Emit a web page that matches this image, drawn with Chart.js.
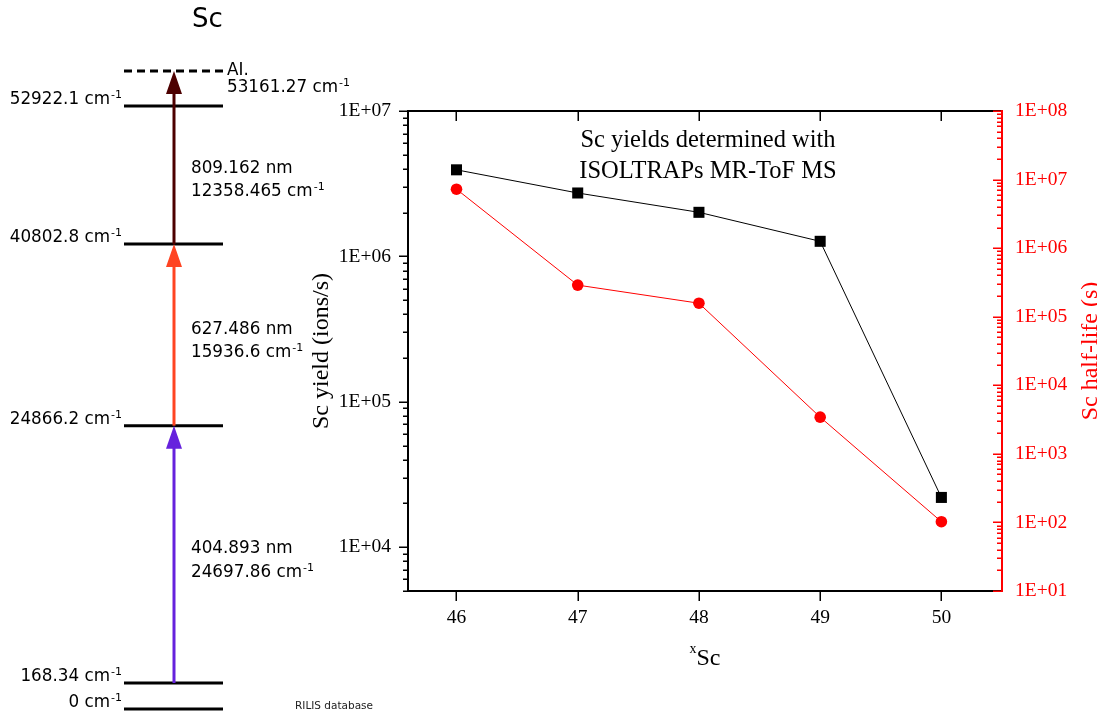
<!DOCTYPE html>
<html><head><meta charset="utf-8">
<script src="https://cdn.jsdelivr.net/npm/chart.js@4.4.1/dist/chart.umd.min.js"></script>
<style>
html,body{margin:0;padding:0;background:#fff;width:1097px;height:712px;overflow:hidden}
#main{position:absolute;left:0;top:0}
#diag{position:absolute;left:0;top:0}
</style></head><body>
<canvas id="main" width="1097" height="712"></canvas>
<canvas id="diag" width="400" height="712"></canvas>
<script>
// ---------------- data: yield chart ----------------
const massNumbers = [46, 47, 48, 49, 50];
const yieldValues = [3.94e6, 2.73e6, 2.01e6, 1.27e6, 2.2e4];
const halfLifeValues = [7.24e6, 2.89e5, 1.573e5, 3432, 102.5];
const massTicks = [46, 47, 48, 49, 50];
const yieldTicks = [1e4, 1e5, 1e6, 1e7];
const halfLifeTicks = [1e1, 1e2, 1e3, 1e4, 1e5, 1e6, 1e7, 1e8];
const chartTitleLines = ['Sc yields determined with', 'ISOLTRAPs MR-ToF MS'];
const yieldAxisTitle = 'Sc yield (ions/s)';
const halfLifeAxisTitle = 'Sc half-life (s)';
const massAxisSup = 'x';
const massAxisTitle = 'Sc';

// ---------------- data: ionization scheme ----------------
const elementName = 'Sc';
const levelEnergies = [0, 168.34, 24866.2, 40802.8, 52922.1];
const levelLabels = ['0', '168.34', '24866.2', '40802.8', '52922.1'];
const ionizationEnergy = 53161.27;
const ionizationLabel = '53161.27';
const transitionLower = [1, 2, 3];
const transitionWavenumbers = [24697.86, 15936.6, 12358.465];
const transitionWavenumberLabels = ['24697.86', '15936.6', '12358.465'];
const transitionWavelengths = ['404.893', '627.486', '809.162'];
const transitionColors = ['#6622dd', '#ff4422', '#4d0000'];
const sourceNote = 'RILIS database';

// ---------------- helpers ----------------
const serif = "'Liberation Serif', 'Times New Roman', serif";
const sans = "'DejaVu Sans', Verdana, sans-serif";
function expLabel(v) {
  const e = Math.round(Math.log10(v));
  return '1E+' + String(e).padStart(2, '0');
}
function logTickList(min, max) {
  const out = [];
  for (let d = Math.floor(Math.log10(min)); d <= Math.ceil(Math.log10(max)); d++) {
    for (let m = 1; m <= 9; m++) {
      const v = m * Math.pow(10, d);
      if (v >= min * 0.9999 && v <= max * 1.0001) out.push({ v, major: m === 1 });
    }
  }
  return out;
}

// ---------------- yield chart ----------------
const axesPlugin = {
  id: 'axesDeco',
  afterDraw(chart) {
    const { ctx, chartArea: a, scales: { x, y, y2 } } = chart;
    ctx.save();
    ctx.strokeStyle = '#000';
    ctx.lineWidth = 2;
    ctx.beginPath();
    ctx.moveTo(a.left, a.bottom); ctx.lineTo(a.right, a.bottom);
    ctx.moveTo(a.left, a.top); ctx.lineTo(a.right, a.top);
    ctx.moveTo(a.left, a.top - 1); ctx.lineTo(a.left, a.bottom + 1);
    ctx.stroke();
    ctx.lineWidth = 1.5;
    ctx.beginPath();
    massTicks.forEach(v => {
      const px = Math.round(x.getPixelForValue(v)) + 0.25;
      ctx.moveTo(px, a.bottom); ctx.lineTo(px, a.bottom + 10);
      ctx.moveTo(px, a.top); ctx.lineTo(px, a.top + 10);
    });
    logTickList(y.min, y.max).forEach(t => {
      const py = Math.round(y.getPixelForValue(t.v)) + 0.25;
      ctx.moveTo(a.left, py); ctx.lineTo(a.left - (t.major ? 9 : 5), py);
    });
    ctx.stroke();
    // right red axis
    ctx.strokeStyle = '#ff0000';
    ctx.lineWidth = 2;
    ctx.beginPath();
    ctx.moveTo(a.right, a.top - 1); ctx.lineTo(a.right, a.bottom + 1);
    ctx.stroke();
    ctx.lineWidth = 1.5;
    ctx.beginPath();
    logTickList(y2.min, y2.max).forEach(t => {
      const py = Math.round(y2.getPixelForValue(t.v)) + 0.25;
      ctx.moveTo(a.right, py); ctx.lineTo(a.right - (t.major ? 9 : 5), py);
    });
    ctx.stroke();

    // chart title
    ctx.fillStyle = '#000';
    ctx.font = '24.5px ' + serif;
    ctx.textAlign = 'center';
    ctx.textBaseline = 'alphabetic';
    const cx = (a.left + a.right) / 2 + 3;
    ctx.fillText(chartTitleLines[0], cx, a.top + 36);
    ctx.fillText(chartTitleLines[1], cx, a.top + 67);

    // x axis title with superscript
    ctx.textAlign = 'left';
    ctx.font = '14px ' + serif;
    const wSup = ctx.measureText(massAxisSup).width;
    ctx.font = '24px ' + serif;
    const wMain = ctx.measureText(massAxisTitle).width;
    const xc = (a.left + a.right) / 2;
    const x0 = xc - (wSup + wMain) / 2;
    ctx.font = '14px ' + serif;
    ctx.fillText(massAxisSup, x0, a.bottom + 62);
    ctx.font = '24px ' + serif;
    ctx.fillText(massAxisTitle, x0 + wSup, a.bottom + 74);

    // y axis titles
    const yc = (a.top + a.bottom) / 2;
    ctx.textAlign = 'center';
    ctx.save();
    ctx.translate(a.left - 80, yc);
    ctx.rotate(-Math.PI / 2);
    ctx.fillText(yieldAxisTitle, 0, 0);
    ctx.restore();
    ctx.save();
    ctx.fillStyle = '#ff0000';
    ctx.translate(a.right + 95, yc);
    ctx.rotate(-Math.PI / 2);
    ctx.fillText(halfLifeAxisTitle, 0, 0);
    ctx.restore();
    ctx.restore();
  }
};

new Chart(document.getElementById('main'), {
  type: 'line',
  data: {
    datasets: [
      {
        label: 'Sc half-life',
        data: massNumbers.map((m, i) => ({ x: m, y: halfLifeValues[i] })),
        yAxisID: 'y2',
        borderColor: '#ff0000',
        backgroundColor: '#ff0000',
        borderWidth: 1,
        pointStyle: 'circle',
        pointRadius: 5.8,
        pointBorderWidth: 0,
        tension: 0
      },
      {
        label: 'Sc yield',
        data: massNumbers.map((m, i) => ({ x: m, y: yieldValues[i] })),
        yAxisID: 'y',
        borderColor: '#000000',
        backgroundColor: '#000000',
        borderWidth: 1,
        pointStyle: 'rect',
        pointRadius: 7.8,
        pointBorderWidth: 0,
        tension: 0
      }
    ]
  },
  options: {
    responsive: false,
    animation: false,
    events: [],
    layout: { padding: { top: 111, left: 0, right: 0, bottom: 0 } },
    plugins: { legend: { display: false }, tooltip: { enabled: false }, title: { display: false } },
    scales: {
      x: {
        type: 'linear', position: 'bottom', min: 45.6, max: 50.5,
        afterBuildTicks: s => { s.ticks = massTicks.map(v => ({ value: v })); },
        afterFit: s => { s.height = 121; },
        grid: { display: false, drawTicks: false, tickLength: 0 },
        border: { display: false },
        ticks: { font: { family: serif, size: 19.5 }, color: '#000', padding: 15, maxRotation: 0, autoSkip: false,
          callback: v => String(v) }
      },
      y: {
        type: 'logarithmic', position: 'left', min: 5000, max: 1e7,
        afterBuildTicks: s => { s.ticks = yieldTicks.map(v => ({ value: v })); },
        afterFit: s => { s.width = 408; },
        grid: { display: false, drawTicks: false, tickLength: 0 },
        border: { display: false },
        ticks: { font: { family: serif, size: 19.5 }, color: '#000', padding: 17, autoSkip: false,
          callback: v => expLabel(v) }
      },
      y2: {
        type: 'logarithmic', position: 'right', min: 10, max: 1e8,
        afterBuildTicks: s => { s.ticks = halfLifeTicks.map(v => ({ value: v })); },
        afterFit: s => { s.width = 95; },
        grid: { display: false, drawTicks: false, tickLength: 0 },
        border: { display: false },
        ticks: { font: { family: serif, size: 19.5 }, color: '#ff0000', padding: 13, autoSkip: false,
          callback: v => expLabel(v) }
      }
    }
  },
  plugins: [axesPlugin]
});

// ---------------- ionization scheme ----------------
function textWithSup(ctx, main, sup, x, y, align, mainFont, supFont) {
  ctx.font = mainFont;
  const wm = ctx.measureText(main).width;
  ctx.font = supFont;
  const ws = ctx.measureText(sup).width;
  const x0 = align === 'right' ? x - wm - ws : x;
  ctx.textAlign = 'left';
  ctx.font = mainFont;
  ctx.fillText(main, x0, y);
  ctx.font = supFont;
  ctx.fillText(sup, x0 + wm + 1, y - 6);
}

const schemePlugin = {
  id: 'scheme',
  afterDraw(chart) {
    const { ctx, chartArea: a, scales: { x, y } } = chart;
    const mainFont = '16.8px ' + sans;
    const supFont = '11px ' + sans;
    const minLevelGap = 26, aiGap = 35;
    const disp = [];
    levelEnergies.forEach((e, i) => {
      let py = y.getPixelForValue(e);
      if (i > 0 && disp[i - 1] - py < minLevelGap) py = disp[i - 1] - minLevelGap;
      disp.push(py);
    });
    const aiY = Math.min(y.getPixelForValue(ionizationEnergy), disp[disp.length - 1] - aiGap);
    const xl = x.getPixelForValue(0), xr = x.getPixelForValue(1);
    const ax = Math.round(x.getPixelForValue(0.5));
    ctx.save();
    ctx.textBaseline = 'alphabetic';
    ctx.fillStyle = '#000';
    // title
    ctx.font = '26px ' + sans;
    ctx.textAlign = 'center';
    ctx.fillText(elementName, (xl + xr) / 2 + 34, 27);

    // levels
    ctx.strokeStyle = '#000';
    ctx.lineWidth = 3;
    disp.forEach((py, i) => {
      ctx.beginPath();
      ctx.moveTo(xl, py); ctx.lineTo(xr, py); ctx.stroke();
      textWithSup(ctx, levelLabels[i] + ' cm', '-1', xl - 3, py - 2, 'right', mainFont, supFont);
    });
    // ionization limit
    ctx.setLineDash([8, 5]);
    ctx.beginPath();
    ctx.moveTo(xl, aiY); ctx.lineTo(xr, aiY); ctx.stroke();
    ctx.setLineDash([]);
    ctx.font = mainFont;
    ctx.textAlign = 'left';
    ctx.fillText('AI.', xr + 4, aiY + 4);
    textWithSup(ctx, ionizationLabel + ' cm', '-1', xr + 4, aiY + 21, 'left', mainFont, supFont);

    // transitions
    transitionLower.forEach((li, k) => {
      const upperE = levelEnergies[li] + transitionWavenumbers[k];
      let ui = levelEnergies.findIndex(e => Math.abs(e - upperE) < 1);
      const yLow = disp[li];
      const yUp = ui >= 0 ? disp[ui] : aiY;
      const col = transitionColors[k];
      ctx.strokeStyle = col; ctx.fillStyle = col;
      ctx.lineWidth = 3;
      ctx.beginPath();
      ctx.moveTo(ax, yLow); ctx.lineTo(ax, yUp + 18); ctx.stroke();
      ctx.beginPath();
      ctx.moveTo(ax, yUp); ctx.lineTo(ax + 8, yUp + 23); ctx.lineTo(ax - 8, yUp + 23); ctx.closePath();
      ctx.fill();
      const mid = (yLow + y.getPixelForValue(upperE)) / 2 - 1;
      ctx.fillStyle = '#000';
      ctx.font = mainFont;
      ctx.textAlign = 'left';
      ctx.fillText(transitionWavelengths[k] + ' nm', ax + 17, mid);
      textWithSup(ctx, transitionWavenumberLabels[k] + ' cm', '-1', ax + 17, mid + 23.5, 'left', mainFont, supFont);
    });

    ctx.fillStyle = '#222';
    ctx.font = '10.5px ' + sans;
    ctx.textAlign = 'left';
    ctx.fillText(sourceNote, 295, 709);
    ctx.restore();
  }
};

new Chart(document.getElementById('diag'), {
  type: 'scatter',
  data: { datasets: [] },
  options: {
    responsive: false,
    animation: false,
    events: [],
    layout: { padding: { left: 124, right: 177, top: 106, bottom: 3 } },
    plugins: { legend: { display: false }, tooltip: { enabled: false } },
    scales: {
      x: { type: 'linear', min: 0, max: 1, display: false },
      y: { type: 'linear', min: 0, max: levelEnergies[levelEnergies.length - 1], display: false }
    }
  },
  plugins: [schemePlugin]
});
</script>
</body></html>
